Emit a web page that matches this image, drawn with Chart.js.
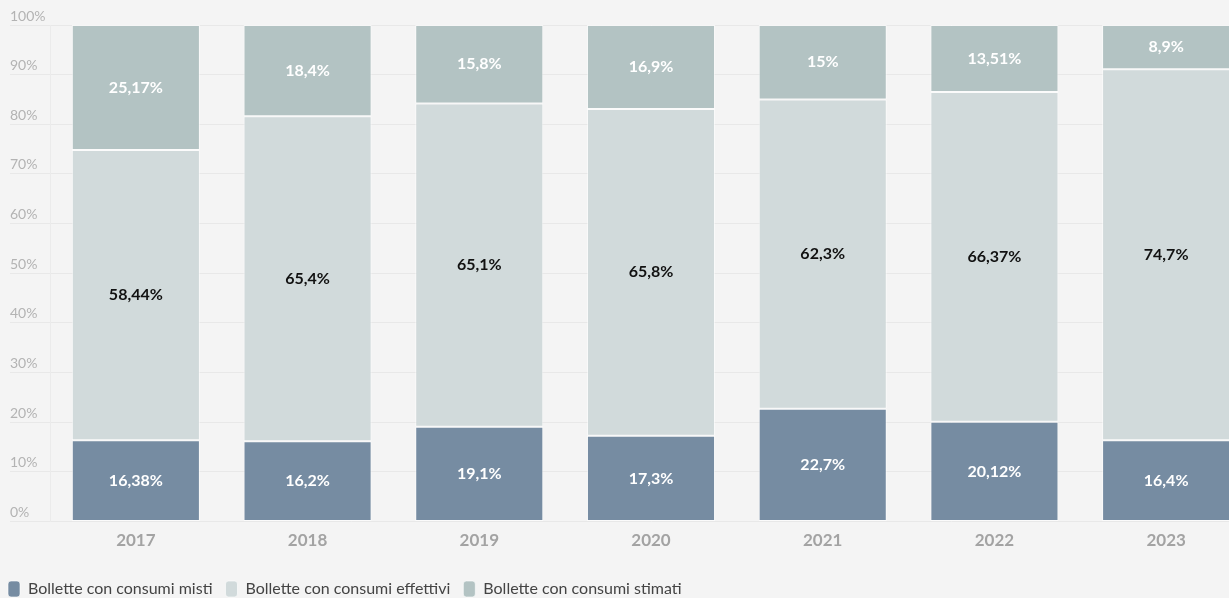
<!DOCTYPE html>
<html lang="it">
<head>
    <meta charset="UTF-8">
    <title>Bollette</title>
    <script src="https://cdn.jsdelivr.net/npm/chart.js"></script>
    <style>
        html, body { margin: 0; padding: 0; background: #f4f4f4; overflow: hidden; }
        #wrap { width: 1252px; height: 598px; }
    </style>
</head>
<body>
    <div id="wrap"><canvas id="chart" width="1252" height="598"></canvas></div>

    <script>
        const years = ['2017', '2018', '2019', '2020', '2021', '2022', '2023'];
        const misti = [16.38, 16.2, 19.1, 17.3, 22.7, 20.12, 16.4];
        const effettivi = [58.44, 65.4, 65.1, 65.8, 62.3, 66.37, 74.7];
        const stimati = [25.17, 18.4, 15.8, 16.9, 15, 13.51, 8.9];
        const yTicks = [0, 10, 20, 30, 40, 50, 60, 70, 80, 90, 100];

        const FONT = 'Lato, "Noto Sans", sans-serif';

        function fmt(v) {
            return String(v).replace('.', ',') + '%';
        }

        // draws the value in the middle of each bar segment
        const valueLabels = {
            id: 'valueLabels',
            afterDatasetsDraw(chart) {
                const ctx = chart.ctx;
                ctx.save();
                ctx.font = 'bold 16px ' + FONT;
                ctx.textAlign = 'center';
                ctx.textBaseline = 'middle';
                chart.data.datasets.forEach((ds, i) => {
                    const meta = chart.getDatasetMeta(i);
                    ctx.fillStyle = ds.labelColor;
                    meta.data.forEach((bar, j) => {
                        const p = bar.getCenterPoint();
                        ctx.fillText(fmt(ds.data[j]), p.x, p.y);
                    });
                });
                ctx.restore();
            }
        };

        // nudge the legend to the bottom-left corner
        const legendShift = {
            id: 'legendShift',
            afterLayout(chart) {
                const lg = chart.legend;
                lg.left -= 15; lg.right -= 15;
                lg.top += 16; lg.bottom += 16;
            }
        };

        const ctx = document.getElementById('chart').getContext('2d');
        new Chart(ctx, {
            type: 'bar',
            data: {
                labels: years,
                datasets: [
                    { label: 'Bollette con consumi misti', data: misti, backgroundColor: '#768ca2', labelColor: '#ffffff' },
                    { label: 'Bollette con consumi effettivi', data: effettivi, backgroundColor: '#d1dadb', labelColor: '#111111' },
                    { label: 'Bollette con consumi stimati', data: stimati, backgroundColor: '#b3c3c3', labelColor: '#ffffff' }
                ].map(d => Object.assign(d, {
                    borderColor: 'rgba(255,255,255,0.6)',
                    borderWidth: 1,
                    borderSkipped: false,
                    categoryPercentage: 1,
                    barPercentage: 0.746
                }))
            },
            options: {
                responsive: false,
                animation: false,
                layout: { padding: { left: 10, top: 25, right: 0, bottom: 7 } },
                scales: {
                    x: {
                        stacked: true,
                        grid: { display: false },
                        border: { display: false },
                        ticks: {
                            color: '#a3a3a3',
                            font: { family: FONT, size: 17, weight: 'bold' },
                            padding: 1
                        }
                    },
                    y: {
                        stacked: true,
                        min: 0,
                        max: 100,
                        afterBuildTicks(scale) {
                            scale.ticks = yTicks.map(v => ({ value: v }));
                        },
                        afterFit(scale) {
                            scale.width = 40;
                        },
                        grid: { color: '#e8e8e8', tickLength: 40, tickColor: '#e8e8e8' },
                        border: { display: true, color: '#ebebeb' },
                        ticks: {
                            crossAlign: 'far',
                            labelOffset: -9,
                            color: '#b3b3b3',
                            font: { family: FONT, size: 14 },
                            callback: v => v + '%'
                        }
                    }
                },
                plugins: {
                    tooltip: { enabled: false },
                    legend: {
                        position: 'bottom',
                        align: 'start',
                        labels: {
                            boxWidth: 12,
                            boxHeight: 16,
                            useBorderRadius: true,
                            borderRadius: 3,
                            color: '#444444',
                            padding: 13,
                            font: { family: FONT, size: 16 }
                        }
                    }
                }
            },
            plugins: [valueLabels, legendShift]
        });
    </script>
</body>
</html>
